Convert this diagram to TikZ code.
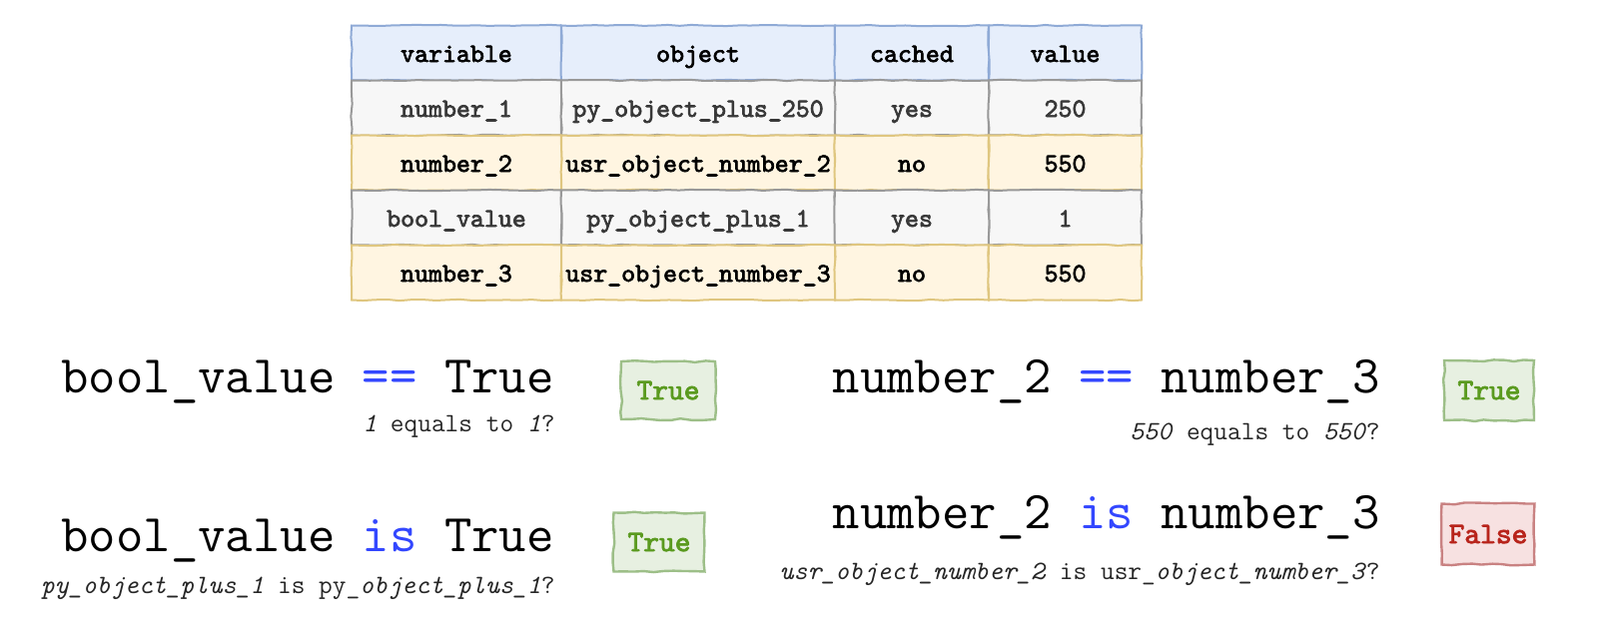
\documentclass[tikz,border=0pt]{standalone}
\usepackage{fontspec}
\newfontfamily\boldmono{lmmono10-regular.otf}[FakeBold=2.6]
\usetikzlibrary{decorations.pathmorphing}

% colours of the cells and badges
\definecolor{headfill}{HTML}{E6EEFB}
\definecolor{headline}{HTML}{8FAAD6}
\definecolor{greyfill}{HTML}{F7F7F7}
\definecolor{greyline}{HTML}{999999}
\definecolor{yellowfill}{HTML}{FFF5E1}
\definecolor{yellowline}{HTML}{DFC67F}
\definecolor{greenfill}{HTML}{E7F0E1}
\definecolor{greenline}{HTML}{9DBF88}
\definecolor{greentext}{HTML}{5A9A1F}
\definecolor{redfill}{HTML}{F7E1E1}
\definecolor{redline}{HTML}{C98282}
\definecolor{redtext}{HTML}{B8241B}
\definecolor{keyblue}{HTML}{3347FF}

\newcommand{\us}{\char`\_}
\newcommand{\kw}[1]{\textcolor{keyblue}{#1}}

\tikzset{
    cell/.style={draw, line width=1pt, minimum height=27.5pt, inner sep=0pt,
        text height=10pt, text depth=1pt,
        font=\boldmono\fontsize{13.3}{15}\selectfont,
        decorate, decoration={random steps, segment length=6pt, amplitude=0.35pt}},
    headcell/.style={cell, fill=headfill, draw=headline},
    greycell/.style={cell, fill=greyfill, draw=greyline, text=black!78},
    yellowcell/.style={cell, fill=yellowfill, draw=yellowline},
    expr/.style={anchor=base east, inner sep=0pt, font=\ttfamily\fontsize{26.6}{30}\selectfont},
    hint/.style={anchor=base east, inner sep=0pt, font=\ttfamily\fontsize{13.3}{15}\selectfont, text=black!85},
    badge/.style={draw, line width=1.2pt, inner sep=0pt, font=\boldmono\fontsize{15}{17}\selectfont,
        decorate, decoration={random steps, segment length=5pt, amplitude=0.5pt}},
    truebadge/.style={badge, fill=greenfill, draw=greenline, text=greentext},
    falsebadge/.style={badge, fill=redfill, draw=redline, text=redtext}
}

\begin{document}
\begin{tikzpicture}[x=0.5pt, y=-0.5pt]
    \useasboundingbox (0,0) rectangle (1602,634);

    % Table
    \foreach \y/\kind/\a/\b/\c/\d [count=\r] in {
        53/headcell/variable/object/cached/value,
        108/greycell/number\us 1/py\us object\us plus\us 250/yes/250,
        163/yellowcell/number\us 2/usr\us object\us number\us 2/no/550,
        218/greycell/bool\us value/py\us object\us plus\us 1/yes/1,
        273/yellowcell/number\us 3/usr\us object\us number\us 3/no/550} {
        \node[\kind, minimum width=105pt] (var\r) at (457,\y) {\a};
        \node[\kind, minimum width=137pt] (obj\r) at (699,\y) {\b};
        \node[\kind, minimum width=77pt] (cache\r) at (913,\y) {\c};
        \node[\kind, minimum width=76.5pt] (val\r) at (1066.5,\y) {\d};
    }

    % Equality checks
    \node[expr] (eqbool) at (555,393) {bool\us value \kw{==} True};
    \node[hint] (eqboolhint) at (556,432) {\textit{1} equals to \textit{1}?};
    \node[truebadge, minimum width=47pt, minimum height=29pt] (eqboolres) at (669,391) {True};

    \node[expr] (eqnum) at (1382,393) {number\us 2 \kw{==} number\us 3};
    \node[hint] (eqnumhint) at (1382,440) {\textit{550} equals to \textit{550}?};
    \node[truebadge, minimum width=45pt, minimum height=30pt] (eqnumres) at (1491,391) {True};

    % Identity checks
    \node[expr] (isbool) at (555,552) {bool\us value \kw{is} True};
    \node[hint] (isboolhint) at (556,594) {\textit{py\us object\us plus\us 1} is py\us\textit{object\us plus\us 1}?};
    \node[truebadge, minimum width=45.5pt, minimum height=29.5pt] (isboolres) at (660,543) {True};

    \node[expr] (isnum) at (1382,529) {number\us 2 \kw{is} number\us 3};
    \node[hint] (isnumhint) at (1382,580) {\textit{usr\us object\us number\us 2} is usr\us\textit{object\us number\us 3}?};
    \node[falsebadge, minimum width=46.5pt, minimum height=30.5pt] (isnumres) at (1490,535) {False};
\end{tikzpicture}
\end{document}
